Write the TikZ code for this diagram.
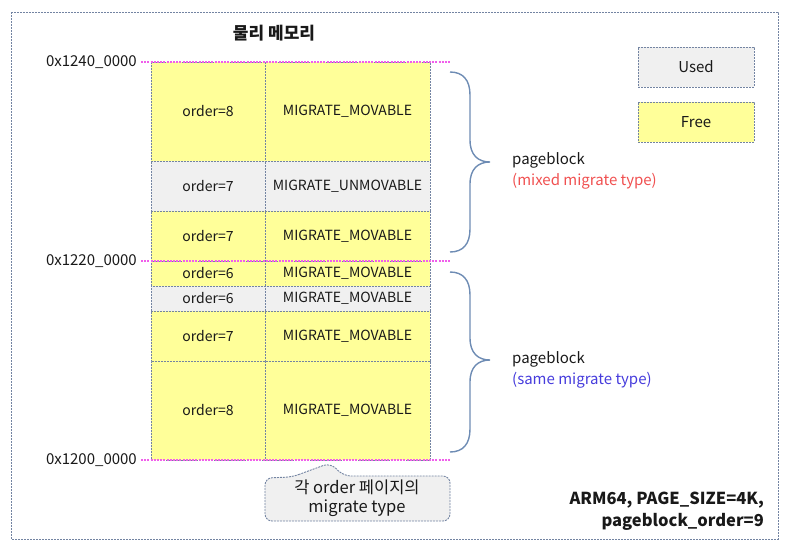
\documentclass[tikz,border=0pt]{standalone}
\usepackage{fontspec}
\setmainfont{Noto Sans CJK KR}
\definecolor{bordc}{RGB}{115,132,162}
\definecolor{freefill}{RGB}{255,255,153}
\definecolor{usedfill}{RGB}{240,240,240}
\definecolor{txtc}{RGB}{25,25,25}
\definecolor{magc}{RGB}{240,95,235}
\definecolor{bracec}{RGB}{110,140,180}
\definecolor{redt}{RGB}{240,80,80}
\definecolor{bluet}{RGB}{70,60,220}
\begin{document}
\begin{tikzpicture}[x=1pt,y=-1pt,
  cell/.style={draw=bordc, dash pattern=on 2pt off 1pt, line width=0.9pt, inner sep=0pt,
    font=\fontsize{14}{16}\selectfont, text=txtc},
  freecell/.style={cell, fill=freefill},
  usedcell/.style={cell, fill=usedfill},
  lcol/.style={minimum width=114pt},
  rcol/.style={minimum width=165pt},
  addr/.style={anchor=east, font=\fontsize{15}{17}\selectfont, text=txtc, inner sep=0pt},
  magline/.style={draw=magc, dash pattern=on 2pt off 1.2pt, line width=1.1pt},
  bracestyle/.style={draw=bracec, line width=1.4pt},
  pbtext/.style={anchor=west, font=\fontsize{15}{17}\selectfont, inner sep=0pt, align=left},
  frame/.style={draw=bordc, dash pattern=on 2pt off 1pt, line width=0.9pt}
]
\useasboundingbox (0,0) rectangle (791,555);
% outer frame
\draw[frame] (11,12) rectangle (778,539);
% title
\node[font=\bfseries\fontsize{17}{19}\selectfont, text=txtc] (title) at (274,33) {물리 메모리};
% rows
\node[freecell, lcol, minimum height=99pt] (l1) at (208,111.5) {order=8};
\node[freecell, rcol, minimum height=99pt] (r1) at (347.5,111.5) {MIGRATE\_MOVABLE};
\node[usedcell, lcol, minimum height=50pt] (l2) at (208,186) {order=7};
\node[usedcell, rcol, minimum height=50pt] (r2) at (347.5,186) {MIGRATE\_UNMOVABLE};
\node[freecell, lcol, minimum height=50pt] (l3) at (208,236) {order=7};
\node[freecell, rcol, minimum height=50pt] (r3) at (347.5,236) {MIGRATE\_MOVABLE};
\node[freecell, lcol, minimum height=25pt] (l4) at (208,273.5) {order=6};
\node[freecell, rcol, minimum height=25pt] (r4) at (347.5,273.5) {MIGRATE\_MOVABLE};
\node[usedcell, lcol, minimum height=25pt] (l5) at (208,298.5) {order=6};
\node[usedcell, rcol, minimum height=25pt] (r5) at (347.5,298.5) {MIGRATE\_MOVABLE};
\node[freecell, lcol, minimum height=50pt] (l6) at (208,336) {order=7};
\node[freecell, rcol, minimum height=50pt] (r6) at (347.5,336) {MIGRATE\_MOVABLE};
\node[freecell, lcol, minimum height=99pt] (l7) at (208,410.5) {order=8};
\node[freecell, rcol, minimum height=99pt] (r7) at (347.5,410.5) {MIGRATE\_MOVABLE};
% address lines
\coordinate (m1a) at (141,62); \coordinate (m1b) at (451,62);
\coordinate (m2a) at (141,261); \coordinate (m2b) at (451,261);
\coordinate (m3a) at (141,460); \coordinate (m3b) at (451,460);
\draw[magline] (m1a) -- (m1b);
\draw[magline] (m2a) -- (m2b);
\draw[magline] (m3a) -- (m3b);
\node[addr] (a1) at (137,62) {0x1240\_0000};
\node[addr] (a2) at (137,261) {0x1220\_0000};
\node[addr] (a3) at (137,460) {0x1200\_0000};
% braces
\draw[bracestyle] (450,72) .. controls (463,72) and (470,80) .. (470,95) -- (470,140)
  .. controls (470,155) and (478,162) .. (490,162)
  .. controls (478,162) and (470,169) .. (470,184) -- (470,229)
  .. controls (470,244) and (463,252) .. (450,252);
\draw[bracestyle] (450,272) .. controls (463,272) and (470,280) .. (470,295) -- (470,338)
  .. controls (470,353) and (478,360) .. (490,360)
  .. controls (478,360) and (470,367) .. (470,382) -- (470,429)
  .. controls (470,444) and (463,452) .. (450,452);
\node[pbtext, text=txtc] (pb1) at (512,160) {pageblock};
\node[pbtext, text=redt] (pb1s) at (512,181) {(mixed migrate type)};
\node[pbtext, text=txtc] (pb2) at (512,359) {pageblock};
\node[pbtext, text=bluet] (pb2s) at (512,380) {(same migrate type)};
% legend
\node[usedcell, minimum width=116pt, minimum height=40pt, font=\fontsize{15}{17}\selectfont] (used) at (696,67) {Used};
\node[freecell, minimum width=116pt, minimum height=40pt, font=\fontsize{15}{17}\selectfont] (free) at (696,122) {Free};
% callout
\draw[frame, fill=usedfill, rounded corners=7pt] (292,477) -- (330,463) -- (344,476) -- (450,476)
  -- (450,521) -- (265,521) -- (265,478) -- cycle;
\node[font=\fontsize{16.5}{19}\selectfont, text=txtc, align=center, inner sep=0pt] (callt) at (357,498) {각 order 페이지의\\migrate type};
% config text
\node[anchor=east, font=\bfseries\fontsize{16.5}{22}\selectfont, text=txtc, align=right, inner sep=0pt] (cfg) at (764,511) {ARM64, PAGE\_SIZE=4K,\\pageblock\_order=9};
\end{tikzpicture}
\end{document}
